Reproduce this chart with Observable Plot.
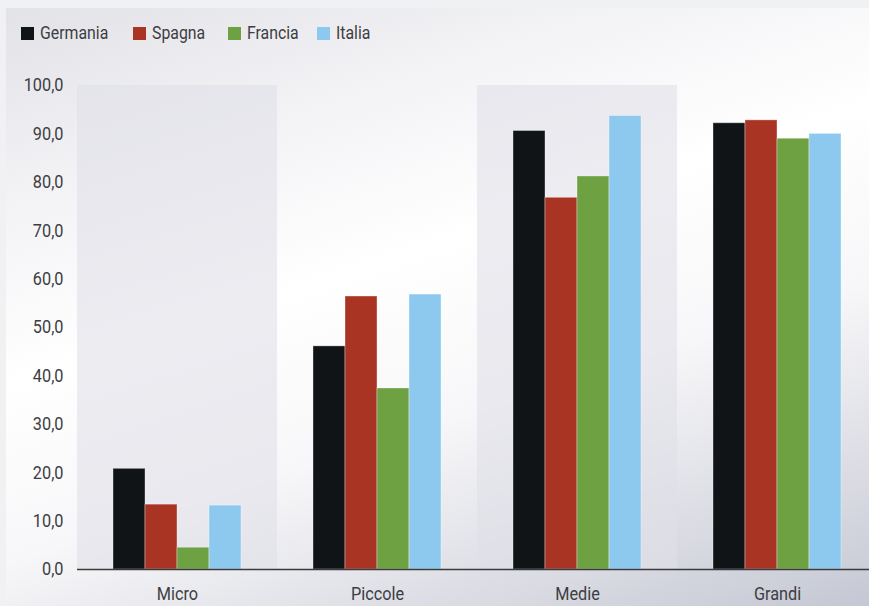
<!DOCTYPE html>
<html>
<head>
<meta charset="utf-8">
<script src="https://cdn.jsdelivr.net/npm/d3@7"></script>
<script src="https://cdn.jsdelivr.net/npm/@observablehq/plot@0.6"></script>
<style>
  html, body { margin: 0; padding: 0; width: 869px; height: 606px; overflow: hidden; background: #f0f1f3; font-family: Roboto, "Noto Sans", sans-serif; }
  #panel { position: absolute; left: 6px; top: 8px; width: 880px; height: 610px;
    background: linear-gradient(162deg, #e2e2e7 0%, #f3f3f6 22%, #ffffff 42%, #f7f7f9 62%, #dcdde4 82%, #c2c5d2 100%); }
  #legend { position: absolute; left: 0; top: 0; width: 869px; height: 60px; font-size: 18px; color: #3d3d42; }
  #legend .sw { position: absolute; top: 27px; width: 12.5px; height: 12.5px; }
  #legend .lb { position: absolute; top: 22px; line-height: 22px; white-space: nowrap; transform: scaleX(0.88); transform-origin: 0 50%; }
  #chart { position: absolute; left: 0; top: 60px; width: 877px; }
</style>
</head>
<body>
<div id="panel"></div>
<div id="legend"></div>
<div id="chart"></div>
<script>
const categories = ["Micro", "Piccole", "Medie", "Grandi"];
const series = ["Germania", "Spagna", "Francia", "Italia"];
const colors = ["#101417", "#aa3424", "#6ea142", "#8dc9ee"];
const germania = [20.8, 46.1, 90.6, 92.2];
const spagna   = [13.4, 56.4, 76.8, 92.8];
const francia  = [4.5, 37.4, 81.2, 89.0];
const italia   = [13.2, 56.8, 93.7, 90.0];
const yTicks = [0, 10, 20, 30, 40, 50, 60, 70, 80, 90, 100];
const shadedCategories = ["Micro", "Medie"];

// layout of the legend entries (swatch left edges, px)
const legendLeft = [21, 133, 228, 317];

const valuesBySeries = [germania, spagna, francia, italia];
const data = [];
categories.forEach((c, i) => {
  series.forEach((s, j) => data.push({cat: c, serie: s, value: valuesBySeries[j][i]}));
});

// legend
const legend = document.getElementById("legend");
series.forEach((s, j) => {
  const sw = document.createElement("span");
  sw.className = "sw";
  sw.style.left = legendLeft[j] + "px";
  sw.style.background = colors[j];
  const lb = document.createElement("span");
  lb.className = "lb";
  lb.style.left = (legendLeft[j] + 19) + "px";
  lb.textContent = s;
  legend.appendChild(sw);
  legend.appendChild(lb);
});

const fmt = d => d.toFixed(1).replace(".", ",");

const chart = Plot.plot({
  width: 877,
  height: 546,
  marginLeft: 76,
  marginRight: 0,
  marginTop: 25,
  marginBottom: 37,
  style: {background: "transparent", fontFamily: "Roboto, sans-serif", fontSize: "18.5px", color: "#3d3d42", overflow: "visible", maxWidth: "none"},
  fx: {domain: categories, padding: 0, label: null, axis: "bottom", tickSize: 0, tickPadding: 17},
  x: {domain: series, paddingInner: 0, paddingOuter: 1.077, axis: null},
  y: {domain: [0, 100], ticks: yTicks, tickFormat: fmt, tickSize: 0, tickPadding: 14, label: null},
  color: {domain: series, range: colors},
  marks: [
    Plot.rectY(shadedCategories.map(c => ({cat: c})), {fx: "cat", y1: 0, y2: 100, fill: "#e0e0e8", fillOpacity: 0.6}),
    Plot.barY(data, {fx: "cat", x: "serie", y: "value", fill: "serie", stroke: "#ffffff", strokeOpacity: 0.35, strokeWidth: 1}),
    Plot.ruleY([0], {stroke: "#3a3a3f", strokeWidth: 1.5})
  ]
});
chart.style.maxWidth = "none";
// condense text horizontally (reference uses a condensed face)
chart.querySelectorAll("text").forEach(el => {
  const t = el.getAttribute("transform") || "";
  const x = +el.getAttribute("x") || 0;
  const y = +el.getAttribute("y") || 0;
  el.setAttribute("transform", `${t} translate(${x},${y}) scale(0.88,1) translate(${-x},${-y})`);
});
document.getElementById("chart").appendChild(chart);
</script>
</body>
</html>
